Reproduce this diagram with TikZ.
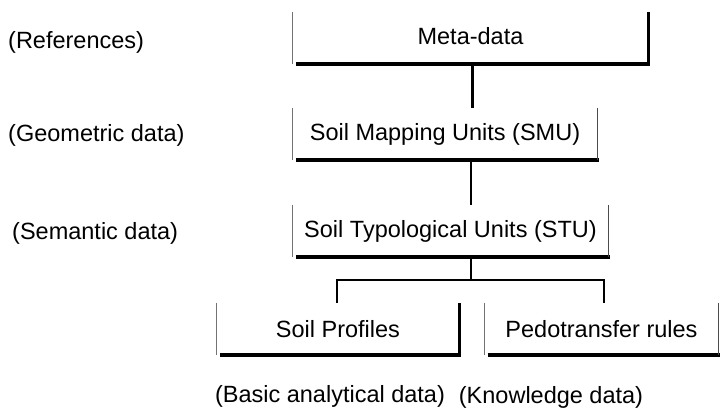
\documentclass[tikz,border=0pt]{standalone}
\usepackage{fontspec}
\setmainfont{Liberation Sans}
\begin{document}
\begin{tikzpicture}[x=1pt,y=-1pt,
  txt/.style={font=\fontsize{23.5}{27}\selectfont, inner sep=0pt},
  boxnode/.style={txt, minimum height=52pt, align=center},
  leftedge/.style={draw=black!55, line width=1pt},
  botedge/.style={draw=black, line width=3.8pt},
  rightthick/.style={draw=black, line width=3.2pt},
  rightthin/.style={draw=black!70, line width=1.1pt},
  thickconn/.style={draw=black, line width=3pt},
  thinconn/.style={draw=black, line width=1.2pt}]
\useasboundingbox (0,0) rectangle (721,409);

% boxes
\node[boxnode, minimum width=355pt] (meta) at (470.5,38) {\raisebox{4pt}{Meta-data}};
\node[boxnode, minimum width=304pt] (smu) at (445,134) {Soil Mapping Units (SMU)};
\node[boxnode, minimum width=315pt] (stu) at (450.5,231) {Soil Typological Units (STU)};
\node[boxnode, minimum width=242pt] (prof) at (338,329) {Soil Profiles};
\node[boxnode, minimum width=233pt] (ped) at (601.5,329) {Pedotransfer rules};

% box edges
\foreach \n in {meta,smu,stu,prof,ped}{
  \draw[leftedge] (\n.north west) -- (\n.south west);
  \draw[botedge] ([xshift=3pt]\n.south west) -- ([xshift=1.6pt]\n.south east);
}
\draw[rightthick] (meta.north east) -- (meta.south east);
\draw[rightthin] (smu.north east) -- (smu.south east);
\draw[rightthin] (stu.north east) -- (stu.south east);
\draw[rightthick] (prof.north east) -- (prof.south east);
\draw[rightthin] (ped.north east) -- (ped.south east);

% connectors
\coordinate (j1) at (472,64);
\coordinate (bar) at (471,280);
\draw[thickconn] (meta.south -| j1) -- (smu.north -| j1);
\draw[thinconn] (smu.south -| bar) -- (stu.north -| bar);
\draw[thinconn] (stu.south -| bar) -- (bar);
\draw[thinconn] ([xshift=-1pt]prof.north) |- (bar) -| ([xshift=2.5pt]ped.north);

% labels
\node[txt, anchor=west] (lref) at (8,42) {(References)};
\node[txt, anchor=west] (lgeo) at (8,135) {(Geometric data)};
\node[txt, anchor=west] (lsem) at (12,233) {(Semantic data)};
\node[txt] (lbasic) at (330,396) {(Basic analytical data)};
\node[txt] (lknow) at (551,397) {(Knowledge data)};
\end{tikzpicture}
\end{document}
